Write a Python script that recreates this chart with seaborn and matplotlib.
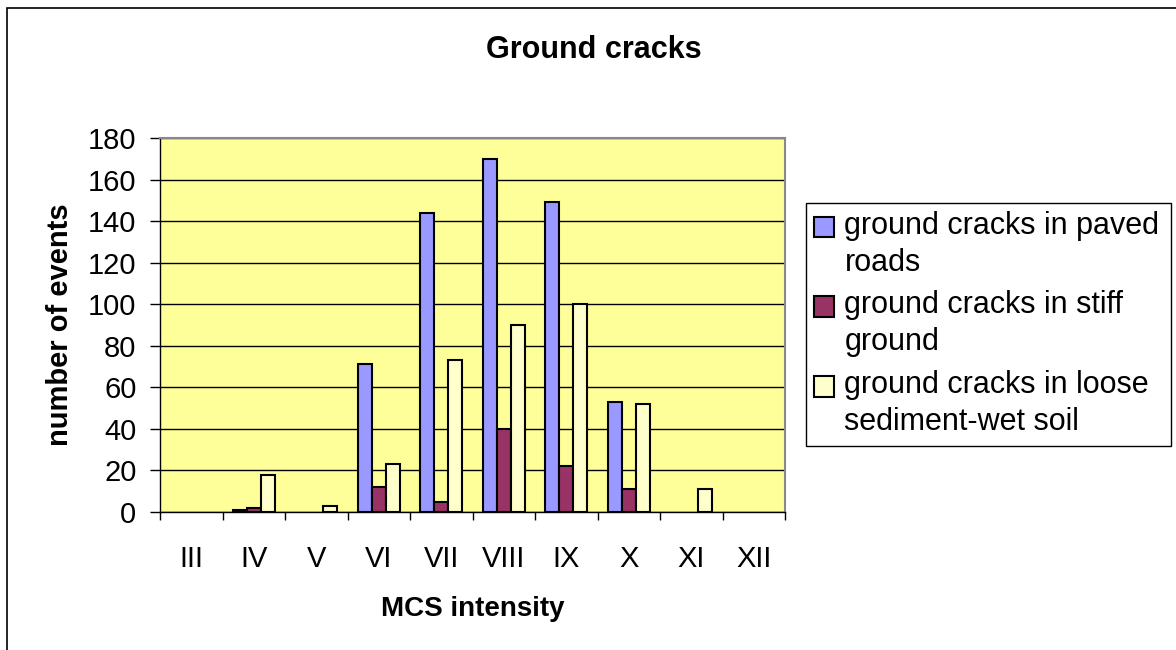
import matplotlib
matplotlib.use("Agg")
import matplotlib.pyplot as plt
import seaborn as sns
import pandas as pd
import numpy as np
from matplotlib.patches import Rectangle

categories = ["III", "IV", "V", "VI", "VII", "VIII", "IX", "X", "XI", "XII"]
paved = [0, 1, 0, 71, 144, 170, 149, 53, 0, 0]
stiff = [0, 2, 0, 12, 5, 40, 22, 11, 0, 0]
loose = [0, 18, 3, 23, 73, 90, 100, 52, 11, 0]
series_names = ["ground cracks in paved\nroads",
                "ground cracks in stiff\nground",
                "ground cracks in loose\nsediment-wet soil"]
colors = ["#9999FF", "#993366", "#FFFFCC"]

rows = []
for name, vals in zip(series_names, [paved, stiff, loose]):
    for c, v in zip(categories, vals):
        rows.append({"intensity": c, "events": v, "series": name})
df = pd.DataFrame(rows)

sns.set_style("white")
plt.rcParams['font.family'] = ['Liberation Sans', 'DejaVu Sans']
plt.rcParams.update({"text.color": "black", "axes.labelcolor": "black",
                     "xtick.color": "black", "ytick.color": "black"})

fig = plt.figure(figsize=(11.76, 6.5), dpi=100)
W, H = 1176, 650
L, R, T, B = 160, 785, 138, 512
ax = fig.add_axes([L / W, 1 - B / H, (R - L) / W, (B - T) / H])
ax.set_facecolor("#FFFF99")

sns.barplot(data=df, x="intensity", y="events", hue="series", order=categories,
            hue_order=series_names, palette=colors, width=0.67, gap=0,
            edgecolor="black", linewidth=1.5, ax=ax, legend=True, saturation=1)

ax.set_ylim(0, 180)
ax.set_xlim(-0.5, len(categories) - 0.5)
ax.set_yticks(np.arange(0, 181, 20))
ax.yaxis.grid(True, color="black", linewidth=1)
ax.xaxis.grid(False)
ax.set_axisbelow(True)
for s in ["top", "right"]:
    ax.spines[s].set_color("#888888")
    ax.spines[s].set_linewidth(1.5)
for s in ["left", "bottom"]:
    ax.spines[s].set_color("black")
    ax.spines[s].set_linewidth(1)

ax.tick_params(axis="y", which="major", length=7, width=1, color="black",
               labelsize=21, direction="out", left=True, pad=10, labelcolor="black")
ax.set_xticks(np.arange(-0.5, len(categories), 1), minor=True)
ax.tick_params(axis="x", which="minor", length=6, width=1, color="black",
               direction="out", bottom=True)
ax.tick_params(axis="x", which="major", length=0, labelsize=21, pad=24,
               labelcolor="black")

ax.set_xlabel("MCS intensity", fontsize=20, fontweight="bold", color="black")
ax.xaxis.set_label_coords(0.5, -0.225)
ax.set_ylabel("number of events", fontsize=21, fontweight="bold", color="black")
ax.yaxis.set_label_coords(-0.138, 0.5)

fig.text(594 / W, 1 - 50 / H, "Ground cracks", fontsize=22, fontweight="bold",
         ha="center", va="center", color="black")

leg = ax.legend(loc="upper left", bbox_to_anchor=(806 / W, 1 - 203 / H),
                bbox_transform=fig.transFigure, fontsize=22, frameon=False,
                handlelength=0.66, handleheight=0.66, handletextpad=0.35,
                borderpad=0.25, labelspacing=0.42, borderaxespad=0)
for t in leg.get_texts():
    t.set_linespacing(1.3)
    t.set_color("black")
for h in leg.legend_handles:
    h.set_visible(True)
    h.set_edgecolor("black")
    h.set_linewidth(1.5)
    h.set_y(h.get_y() + 13)

# legend frame
fig.patches.append(Rectangle((806 / W, 1 - 446 / H), (1171 - 806) / W, (446 - 203) / H,
                             transform=fig.transFigure, fill=False,
                             edgecolor="black", linewidth=1))

# hide zero-height bars (not drawn in the reference)
for p in ax.patches:
    if hasattr(p, "get_height") and p.get_height() == 0:
        p.set_visible(False)

fig.patches.append(Rectangle((7 / W, -0.1), 1.2, 1.1 - 8 / H, transform=fig.transFigure,
                             fill=False, edgecolor="black", linewidth=1.2))

fig.savefig("out.png", dpi=100, facecolor="white")
